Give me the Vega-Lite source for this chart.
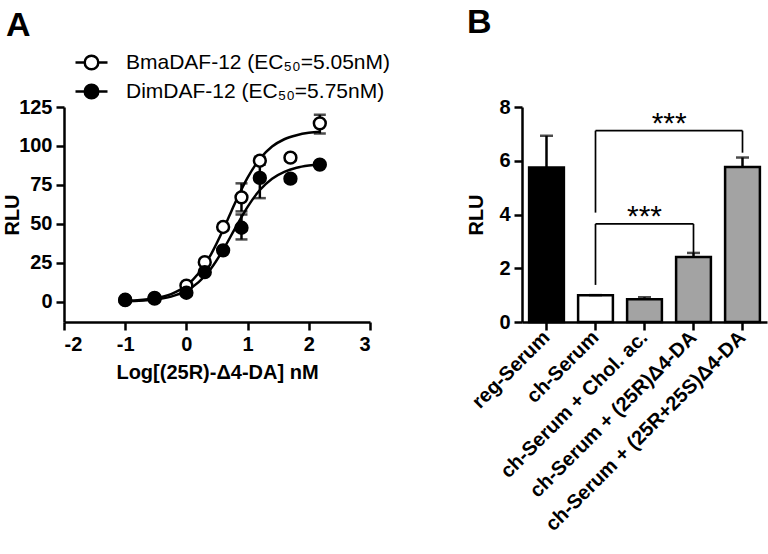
{
  "$schema": "https://vega.github.io/schema/vega-lite/v6.json",
  "background": "white",
  "padding": {"left": 2, "top": 6, "right": 2, "bottom": 0},
  "spacing": 152,
  "bounds": "flush",
  "resolve": {"scale": {"fill": "independent"}, "legend": {"fill": "independent"}},
  "config": {
    "font": "Liberation Sans",
    "view": {"stroke": null},
    "axis": {"domainColor": "black", "domainWidth": 2.5, "tickColor": "black", "tickWidth": 2.5, "tickSize": 8, "labelFont": "Liberation Sans", "labelFontWeight": "bold", "labelFontSize": 20, "labelColor": "black", "labelLimit": 0, "titleFont": "Liberation Sans", "titleFontWeight": "bold", "titleFontSize": 20, "titleColor": "black", "grid": false, "labelPadding": 4},
    "title": {"font": "Liberation Sans", "fontSize": 34, "fontWeight": "bold", "anchor": "start", "color": "black", "frame": "group"}
  },
  "datasets": {
    "curves": [
      {"series": "Bma", "logc": -1.0, "rlu": 0.5}, {"series": "Bma", "logc": -0.5, "rlu": 2.3}, {"series": "Bma", "logc": -0.25, "rlu": 4.9}, {"series": "Bma", "logc": 0.0, "rlu": 10.4}, {"series": "Bma", "logc": 0.2, "rlu": 18.3}, {"series": "Bma", "logc": 0.4, "rlu": 30.3}, {"series": "Bma", "logc": 0.6, "rlu": 46.2}, {"series": "Bma", "logc": 0.7, "rlu": 55.0}, {"series": "Bma", "logc": 0.8, "rlu": 63.8}, {"series": "Bma", "logc": 1.0, "rlu": 79.7}, {"series": "Bma", "logc": 1.2, "rlu": 91.7}, {"series": "Bma", "logc": 1.4, "rlu": 99.6}, {"series": "Bma", "logc": 1.6, "rlu": 104.3}, {"series": "Bma", "logc": 1.8, "rlu": 106.9}, {"series": "Bma", "logc": 2.0, "rlu": 108.4}, {"series": "Bma", "logc": 2.2, "rlu": 109.1},
      {"series": "Dim", "logc": -1.0, "rlu": 0.3}, {"series": "Dim", "logc": -0.5, "rlu": 1.5}, {"series": "Dim", "logc": -0.25, "rlu": 3.3}, {"series": "Dim", "logc": 0.0, "rlu": 7.1}, {"series": "Dim", "logc": 0.2, "rlu": 12.6}, {"series": "Dim", "logc": 0.4, "rlu": 21.2}, {"series": "Dim", "logc": 0.6, "rlu": 33.3}, {"series": "Dim", "logc": 0.8, "rlu": 47.4}, {"series": "Dim", "logc": 1.0, "rlu": 60.9}, {"series": "Dim", "logc": 1.2, "rlu": 71.7}, {"series": "Dim", "logc": 1.4, "rlu": 79.0}, {"series": "Dim", "logc": 1.6, "rlu": 83.4}, {"series": "Dim", "logc": 1.8, "rlu": 86.0}, {"series": "Dim", "logc": 2.0, "rlu": 87.4}, {"series": "Dim", "logc": 2.2, "rlu": 88.2}
    ],
    "points": [
      {"series": "BmaDAF-12 (EC₅₀=5.05nM)", "logc": -1.0, "rlu": 1.0, "lo": 0.5, "hi": 1.5},
      {"series": "BmaDAF-12 (EC₅₀=5.05nM)", "logc": -0.52, "rlu": 2.0, "lo": 1.5, "hi": 2.5},
      {"series": "BmaDAF-12 (EC₅₀=5.05nM)", "logc": 0.0, "rlu": 10.4, "lo": 9.5, "hi": 11.3},
      {"series": "BmaDAF-12 (EC₅₀=5.05nM)", "logc": 0.3, "rlu": 25.4, "lo": 24, "hi": 27},
      {"series": "BmaDAF-12 (EC₅₀=5.05nM)", "logc": 0.6, "rlu": 48.0, "lo": 46, "hi": 50},
      {"series": "BmaDAF-12 (EC₅₀=5.05nM)", "logc": 0.9, "rlu": 67.0, "lo": 58, "hi": 76},
      {"series": "BmaDAF-12 (EC₅₀=5.05nM)", "logc": 1.2, "rlu": 90.5, "lo": 88, "hi": 93},
      {"series": "BmaDAF-12 (EC₅₀=5.05nM)", "logc": 1.7, "rlu": 92.5, "lo": 91, "hi": 94},
      {"series": "BmaDAF-12 (EC₅₀=5.05nM)", "logc": 2.18, "rlu": 114.5, "lo": 108, "hi": 120},
      {"series": "DimDAF-12 (EC₅₀=5.75nM)", "logc": -1.0, "rlu": 1.3, "lo": 0.8, "hi": 1.8},
      {"series": "DimDAF-12 (EC₅₀=5.75nM)", "logc": -0.52, "rlu": 2.5, "lo": 2.0, "hi": 3.0},
      {"series": "DimDAF-12 (EC₅₀=5.75nM)", "logc": 0.0, "rlu": 5.8, "lo": 5.0, "hi": 6.6},
      {"series": "DimDAF-12 (EC₅₀=5.75nM)", "logc": 0.3, "rlu": 19.0, "lo": 18, "hi": 20},
      {"series": "DimDAF-12 (EC₅₀=5.75nM)", "logc": 0.6, "rlu": 33.0, "lo": 32, "hi": 34},
      {"series": "DimDAF-12 (EC₅₀=5.75nM)", "logc": 0.9, "rlu": 47.5, "lo": 40, "hi": 56},
      {"series": "DimDAF-12 (EC₅₀=5.75nM)", "logc": 1.2, "rlu": 79.5, "lo": 66.5, "hi": 92},
      {"series": "DimDAF-12 (EC₅₀=5.75nM)", "logc": 1.7, "rlu": 79.0, "lo": 78, "hi": 80},
      {"series": "DimDAF-12 (EC₅₀=5.75nM)", "logc": 2.18, "rlu": 88.0, "lo": 87, "hi": 89}
    ],
    "bars": [
      {"cond": "reg-Serum", "rlu": 5.75, "hi": 6.93},
      {"cond": "ch-Serum", "rlu": 1.0, "hi": 1.0},
      {"cond": "ch-Serum + Chol. ac.", "rlu": 0.85, "hi": 0.92},
      {"cond": "ch-Serum + (25R)Δ4-DA", "rlu": 2.42, "hi": 2.57},
      {"cond": "ch-Serum + (25R+25S)Δ4-DA", "rlu": 5.77, "hi": 6.12}
    ],
    "brackets": [
      {"xa": "ch-Serum", "xb": "ch-Serum + (25R+25S)Δ4-DA", "ya": 7.12, "yb": 7.12},
      {"xa": "ch-Serum", "xb": "ch-Serum", "ya": 7.12, "yb": 4.07},
      {"xa": "ch-Serum + (25R+25S)Δ4-DA", "xb": "ch-Serum + (25R+25S)Δ4-DA", "ya": 7.12, "yb": 6.3},
      {"xa": "ch-Serum", "xb": "ch-Serum + (25R)Δ4-DA", "ya": 3.65, "yb": 3.65},
      {"xa": "ch-Serum", "xb": "ch-Serum", "ya": 3.65, "yb": 1.38},
      {"xa": "ch-Serum + (25R)Δ4-DA", "xb": "ch-Serum + (25R)Δ4-DA", "ya": 3.65, "yb": 2.57}
    ],
    "stars1": [{"cond": "ch-Serum + (25R)Δ4-DA", "y": 7.03, "label": "***"}],
    "stars2": [{"cond": "ch-Serum + Chol. ac.", "y": 3.57, "label": "***"}]
  },
  "hconcat": [
    {
      "title": {"text": "A", "dx": -58, "offset": 9},
      "width": 306,
      "height": 215,
      "layer": [
        {
          "data": {"name": "curves"},
          "mark": {"type": "line", "stroke": "black", "strokeWidth": 2.5, "interpolate": "monotone"},
          "encoding": {
            "x": {"field": "logc", "type": "quantitative", "scale": {"domain": [-2, 3], "nice": false}, "axis": {"values": [-2, -1, 0, 1, 2, 3], "labelExpr": "'' + datum.value", "title": "Log[(25R)-Δ4-DA] nM", "titlePadding": 8}},
            "y": {"field": "rlu", "type": "quantitative", "scale": {"domain": [-13, 125], "nice": false, "zero": false}, "axis": {"values": [0, 25, 50, 75, 100, 125], "title": "RLU", "titlePadding": -4}},
            "detail": {"field": "series"}
          }
        },
        {
          "data": {"name": "points"},
          "mark": {"type": "rule", "stroke": "black", "strokeWidth": 2.5},
          "encoding": {"x": {"field": "logc", "type": "quantitative"}, "y": {"field": "lo", "type": "quantitative"}, "y2": {"field": "hi"}}
        },
        {
          "data": {"name": "points"},
          "mark": {"type": "tick", "orient": "horizontal", "color": "black", "size": 12, "thickness": 2.5},
          "encoding": {"x": {"field": "logc", "type": "quantitative"}, "y": {"field": "hi", "type": "quantitative"}}
        },
        {
          "data": {"name": "points"},
          "mark": {"type": "tick", "orient": "horizontal", "color": "black", "size": 12, "thickness": 2.5},
          "encoding": {"x": {"field": "logc", "type": "quantitative"}, "y": {"field": "lo", "type": "quantitative"}}
        },
        {
          "data": {"name": "points"},
          "mark": {"type": "point", "shape": "circle", "size": 140, "strokeWidth": 2.5, "stroke": "black", "opacity": 1, "filled": true},
          "encoding": {
            "x": {"field": "logc", "type": "quantitative"},
            "y": {"field": "rlu", "type": "quantitative"},
            "fill": {"field": "series", "type": "nominal", "scale": {"domain": ["BmaDAF-12 (EC₅₀=5.05nM)", "DimDAF-12 (EC₅₀=5.75nM)"], "range": ["white", "black"]},
              "legend": {"orient": "none", "legendX": 17, "legendY": -55, "title": null, "padding": 0, "symbolType": "M-2,0H-0.85M0.85,0H2M-0.85,0A0.85,0.85,0,1,0,0.85,0A0.85,0.85,0,1,0,-0.85,0Z", "symbolSize": 256, "symbolStrokeColor": "black", "symbolStrokeWidth": 2.5, "symbolOpacity": 1, "labelFontSize": 21, "labelFont": "Liberation Sans", "labelColor": "black", "labelLimit": 0, "labelOffset": 24, "rowPadding": 4}}
          }
        }
      ]
    },
    {
      "title": {"text": "B", "dx": -55, "offset": 57},
      "width": 245,
      "height": 215,
      "layer": [
        {
          "data": {"name": "bars"},
          "mark": {"type": "bar", "stroke": "black", "strokeWidth": 2.5},
          "encoding": {
            "x": {"field": "cond", "type": "nominal", "sort": null, "scale": {"paddingInner": 0.29, "paddingOuter": 0.145, "align": 0.5}, "axis": {"title": null, "labelAngle": -45, "labelAlign": "right", "labelBaseline": "middle", "labelPadding": 4}},
            "y": {"field": "rlu", "type": "quantitative", "scale": {"domain": [0, 8], "nice": false}, "axis": {"values": [0, 2, 4, 6, 8], "title": "RLU", "titlePadding": 12}},
            "fill": {"field": "cond", "type": "nominal", "sort": null, "scale": {"domain": ["reg-Serum", "ch-Serum", "ch-Serum + Chol. ac.", "ch-Serum + (25R)Δ4-DA", "ch-Serum + (25R+25S)Δ4-DA"], "range": ["black", "white", "#a3a3a3", "#a3a3a3", "#a3a3a3"]}, "legend": null}
          }
        },
        {
          "data": {"name": "bars"},
          "mark": {"type": "rule", "stroke": "black", "strokeWidth": 2.5},
          "encoding": {"x": {"field": "cond", "type": "nominal", "sort": null}, "y": {"field": "rlu", "type": "quantitative"}, "y2": {"field": "hi"}}
        },
        {
          "data": {"name": "bars"},
          "mark": {"type": "tick", "orient": "horizontal", "color": "black", "size": 13, "thickness": 2.5},
          "encoding": {"x": {"field": "cond", "type": "nominal", "sort": null}, "y": {"field": "hi", "type": "quantitative"}}
        },
        {
          "data": {"name": "brackets"},
          "mark": {"type": "rule", "stroke": "black", "strokeWidth": 1.7},
          "encoding": {"x": {"field": "xa", "type": "nominal", "sort": null}, "x2": {"field": "xb"}, "y": {"field": "ya", "type": "quantitative"}, "y2": {"field": "yb"}}
        },
        {
          "data": {"name": "stars1"},
          "mark": {"type": "text", "fontSize": 30, "baseline": "alphabetic", "color": "black"},
          "encoding": {"x": {"field": "cond", "type": "nominal", "sort": null, "bandPosition": -0.2}, "y": {"field": "y", "type": "quantitative"}, "text": {"field": "label"}}
        },
        {
          "data": {"name": "stars2"},
          "mark": {"type": "text", "fontSize": 30, "baseline": "alphabetic", "color": "black"},
          "encoding": {"x": {"field": "cond", "type": "nominal", "sort": null}, "y": {"field": "y", "type": "quantitative"}, "text": {"field": "label"}}
        }
      ]
    }
  ]
}
